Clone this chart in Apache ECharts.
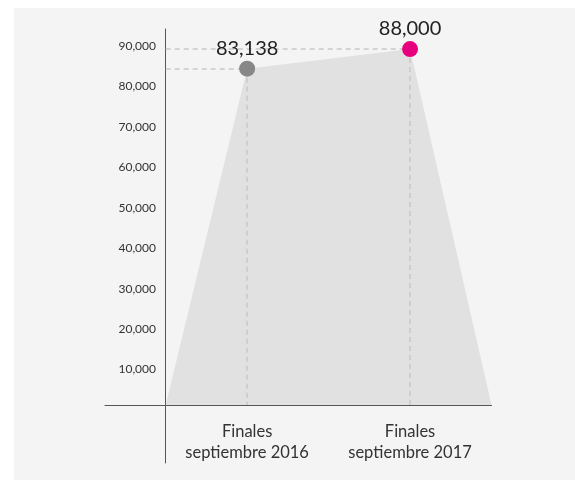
<!DOCTYPE html>
<html>
<head>
<meta charset="utf-8">
<script src="https://cdn.jsdelivr.net/npm/echarts@6/dist/echarts.min.js"></script>
<style>
html,body{margin:0;padding:0;background:#fff;overflow:hidden;}
#c{width:575px;height:480px;}
</style>
</head>
<body>
<div id="c"></div>
<script>
// Data
const categories = ['Finales\nseptiembre 2016', 'Finales\nseptiembre 2017'];
const values = [83138, 88000];
const pointColors = ['#878787', '#e6007e'];
const yTickValues = [10000, 20000, 30000, 40000, 50000, 60000, 70000, 80000, 90000];

// Derived positions: each category sits at the centre of its band (index + 0.5)
const xPos = categories.map((c, i) => i + 0.5);
const xEnd = categories.length;
const areaData = [[0, 0]].concat(values.map((v, i) => [xPos[i], v])).concat([[xEnd, 0]]);
const pointData = values.map((v, i) => ({ value: [xPos[i], v], itemStyle: { color: pointColors[i], opacity: 1 } }));
const guideLines = [];
values.forEach((v, i) => {
  guideLines.push([{ coord: [0, v] }, { coord: [xPos[i], v] }]);
  guideLines.push([{ coord: [xPos[i], v] }, { coord: [xPos[i], 0] }]);
});

const font = 'Lato, "Open Sans", sans-serif';
const chart = echarts.init(document.getElementById('c'), null, { renderer: 'canvas' });
chart.setOption({
  backgroundColor: '#ffffff',
  animation: false,
  graphic: [{
    type: 'rect', z: -10, silent: true,
    shape: { x: 14, y: 8, width: 561, height: 472 },
    style: { fill: '#f4f4f4' }
  }],
  grid: { left: 105, right: 83.5, top: 29, bottom: 17, containLabel: false, outerBoundsMode: 'none' },
  xAxis: {
    type: 'value',
    min: -0.3726,
    max: xEnd,
    splitLine: { show: false },
    axisTick: { show: false },
    axisLine: { show: true, onZero: true, lineStyle: { color: '#555', width: 1 } },
    axisLabel: {
      show: true,
      customValues: xPos,
      formatter: (val) => {
        const idx = xPos.indexOf(val);
        return idx >= 0 ? categories[idx] : '';
      },
      margin: -42,
      fontSize: 16.5,
      lineHeight: 21,
      color: '#333',
      fontFamily: font,
      align: 'center',
      verticalAlign: 'top'
    }
  },
  yAxis: {
    type: 'value',
    min: -14339,
    max: 92955,
    splitLine: { show: false },
    axisTick: { show: false },
    axisLine: { show: true, onZero: true, lineStyle: { color: '#555', width: 1 } },
    axisLabel: {
      show: true,
      customValues: yTickValues,
      formatter: (v) => v.toLocaleString('en-US'),
      margin: -51,
      fontSize: 12,
      color: '#333',
      fontFamily: font,
      align: 'right',
      verticalAlign: 'top',
      lineHeight: 10
    }
  },
  series: [
    {
      type: 'line',
      data: areaData,
      silent: true,
      showSymbol: false,
      symbol: 'none',
      lineStyle: { width: 0 },
      areaStyle: { color: '#e1e1e1', opacity: 1 },
      z: 1
    },
    {
      type: 'scatter',
      data: pointData,
      symbolSize: 16,
      z: 5,
      itemStyle: { opacity: 1 },
      label: {
        show: true,
        position: 'top',
        distance: 2,
        formatter: (p) => p.value[1].toLocaleString('en-US'),
        fontSize: 20,
        color: '#222',
        fontFamily: font
      },
      markLine: {
        silent: true,
        symbol: ['none', 'none'],
        label: { show: false },
        lineStyle: { color: '#c8c8c8', type: [5, 4], width: 1.5 },
        data: guideLines,
        z: 2
      }
    }
  ]
});
</script>
</body>
</html>
